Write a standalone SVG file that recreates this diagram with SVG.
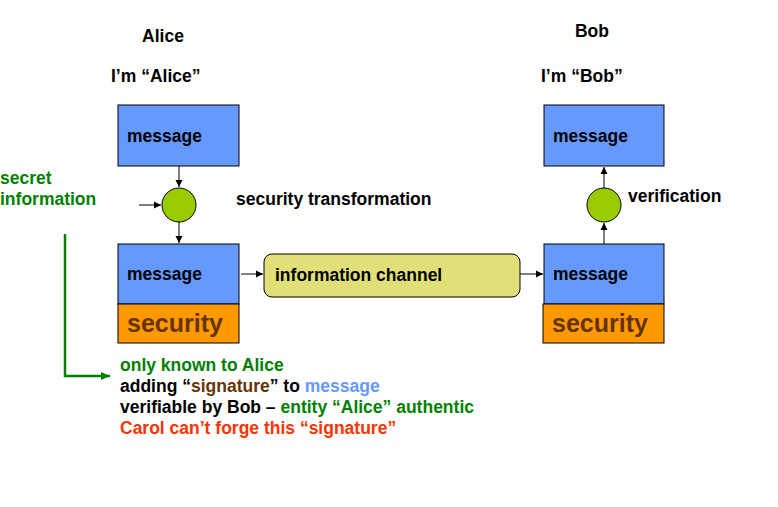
<svg xmlns="http://www.w3.org/2000/svg" width="778" height="507" viewBox="0 0 778 507">
<style>
text{font-family:"Liberation Sans",Arial,sans-serif;font-weight:bold}
.t{font-size:17.5px;fill:#000}
.msg{fill:#6699FF;stroke:#000;stroke-width:1}
.sec{fill:#FF9900;stroke:#000;stroke-width:1}
.sect{font-size:25px;fill:#663300}
.circ{fill:#99CC00;stroke:#000;stroke-width:1}
.ln{stroke:#000;stroke-width:1;fill:none;marker-end:url(#ah)}
.g{fill:#008000}
</style>
<defs>
<marker id="ah" markerWidth="8" markerHeight="8" refX="7" refY="4" orient="auto" markerUnits="userSpaceOnUse">
<path d="M0,0.5 L7,4 L0,7.5 z" fill="#000"/>
</marker>
<marker id="gh" markerWidth="10" markerHeight="10" refX="9" refY="5" orient="auto" markerUnits="userSpaceOnUse">
<path d="M0,1 L9,5 L0,9 z" fill="#008000"/>
</marker>
</defs>
<rect width="778" height="507" fill="#fff"/>
<g id="labels">
<text class="t" x="163" y="42" text-anchor="middle">Alice</text>
<text class="t" x="111" y="82">I’m “Alice”</text>
<text class="t" x="592" y="37" text-anchor="middle">Bob</text>
<text class="t" x="541" y="82">I’m “Bob”</text>
<text class="t" x="236" y="205">security transformation</text>
<text class="t" x="628" y="202">verification</text>
<text class="t g" x="0" y="184">secret</text>
<text class="t g" x="0" y="205">information</text>
</g>
<g id="alice-msg">
<rect class="msg" x="118" y="105" width="121" height="61"/>
<text class="t" x="127" y="142">message</text>
</g>
<g id="alice-transform">
<circle class="circ" cx="179" cy="205" r="17"/>
</g>
<g id="alice-secured">
<rect class="msg" x="118" y="244" width="121" height="60"/>
<text class="t" x="127" y="280">message</text>
<rect class="sec" x="118" y="304" width="121" height="39"/>
<text class="sect" x="127" y="332">security</text>
</g>
<g id="channel">
<rect x="264" y="254" width="256" height="43" rx="8" fill="#E0DF78" stroke="#000"/>
<text class="t" x="275" y="281">information channel</text>
</g>
<g id="bob-secured">
<rect class="msg" x="544" y="244" width="120" height="60"/>
<text class="t" x="553" y="280">message</text>
<rect class="sec" x="543" y="304" width="121" height="39"/>
<text class="sect" x="552" y="332">security</text>
</g>
<g id="bob-verify">
<circle class="circ" cx="604" cy="205" r="17"/>
</g>
<g id="bob-msg">
<rect class="msg" x="544" y="105" width="120" height="61"/>
<text class="t" x="553" y="142">message</text>
</g>
<g id="connectors">
<line class="ln" x1="179" y1="166" x2="179" y2="187"/>
<line class="ln" x1="139" y1="205" x2="161" y2="205"/>
<line class="ln" x1="179" y1="222" x2="179" y2="243"/>
<line class="ln" x1="241" y1="274" x2="263" y2="274"/>
<line class="ln" x1="520" y1="274" x2="543" y2="274"/>
<line class="ln" x1="604" y1="244" x2="604" y2="223"/>
<line class="ln" x1="604" y1="188" x2="604" y2="167"/>
<polyline points="65,234 65,376 110,376" fill="none" stroke="#008000" stroke-width="2.5" marker-end="url(#gh)"/>
</g>
<g id="notes">
<text class="t g" x="120" y="371">only known to Alice</text>
<text class="t" x="120" y="392">adding “<tspan fill="#663300">signature</tspan>” to <tspan fill="#6699FF">message</tspan></text>
<text class="t" x="120" y="413">verifiable by Bob – <tspan fill="#008000">entity “Alice” authentic</tspan></text>
<text class="t" x="120" y="434" style="fill:#FF3300">Carol can’t forge this “signature”</text>
</g>
</svg>
